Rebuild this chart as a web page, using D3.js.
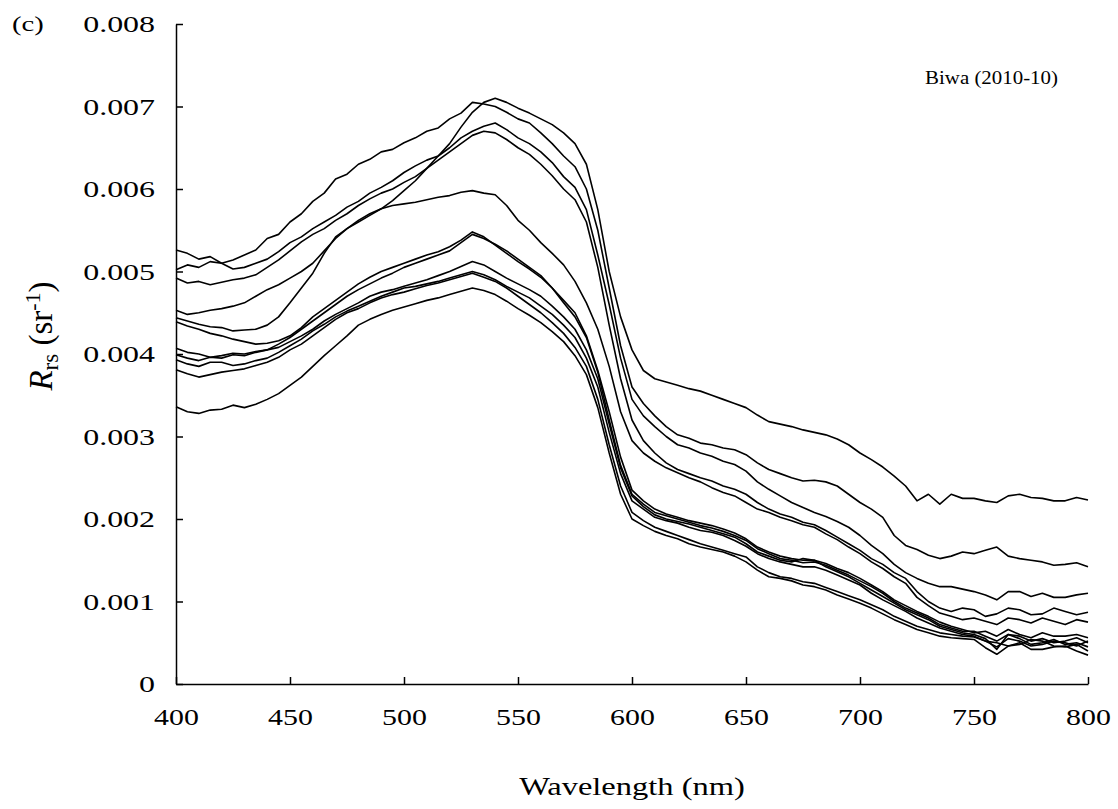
<!DOCTYPE html>
<html>
<head>
<meta charset="utf-8">
<script src="https://cdn.jsdelivr.net/npm/d3@7"></script>
<style>
  html, body { margin: 0; padding: 0; background: #fff; }
  svg { display: block; }
  text { font-family: "Liberation Serif", "Times New Roman", serif; fill: #000; }
</style>
</head>
<body>
<svg id="chart" width="1118" height="809"></svg>
<script>
// ---- data: remote-sensing reflectance, values in units of 0.001 sr^-1 ----
const wavelengths = [
  400,405,410,415,420,425,430,435,440,445,
  450,455,460,465,470,475,480,485,490,495,
  500,505,510,515,520,525,530,535,540,545,
  550,555,560,565,570,575,580,585,590,595,
  600,605,610,615,620,625,630,635,640,645,
  650,655,660,665,670,675,680,685,690,695,
  700,705,710,715,720,725,730,735,740,745,
  750,755,760,765,770,775,780,785,790,795,
  800];
const xTicks = [400,450,500,550,600,650,700,750,800];
const yTicks = [0,0.001,0.002,0.003,0.004,0.005,0.006,0.007,0.008];
const unit = 0.001;

const station1 = [
  5.26,5.22,5.15,5.18,5.10,5.14,5.20,5.26,5.40,5.45,
  5.60,5.70,5.85,5.95,6.12,6.18,6.30,6.36,6.45,6.48,
  6.56,6.62,6.70,6.74,6.85,6.92,7.05,7.03,7.00,6.93,
  6.85,6.80,6.68,6.55,6.40,6.27,6.00,5.50,4.80,4.10,
  3.60,3.40,3.25,3.12,3.02,2.98,2.92,2.90,2.86,2.84,
  2.78,2.68,2.60,2.55,2.50,2.46,2.47,2.45,2.40,2.30,
  2.20,2.12,2.02,1.80,1.68,1.63,1.56,1.52,1.55,1.60,
  1.58,1.62,1.66,1.55,1.52,1.50,1.48,1.44,1.45,1.47,
  1.42];
const station2 = [
  5.02,5.08,5.05,5.12,5.10,5.03,5.05,5.10,5.15,5.24,
  5.35,5.42,5.52,5.60,5.68,5.78,5.85,5.95,6.02,6.10,
  6.20,6.28,6.35,6.40,6.50,6.62,6.70,6.76,6.80,6.72,
  6.62,6.55,6.45,6.32,6.15,6.02,5.75,5.20,4.60,3.95,
  3.45,3.25,3.12,3.00,2.90,2.86,2.80,2.76,2.70,2.66,
  2.58,2.45,2.36,2.28,2.20,2.14,2.08,2.03,1.97,1.90,
  1.80,1.68,1.58,1.45,1.35,1.28,1.22,1.18,1.18,1.15,
  1.12,1.08,1.02,1.12,1.12,1.06,1.10,1.05,1.05,1.08,
  1.10];
const station3 = [
  4.92,4.86,4.88,4.84,4.87,4.90,4.92,4.96,5.05,5.14,
  5.25,5.36,5.45,5.52,5.62,5.70,5.80,5.88,5.95,6.00,
  6.08,6.15,6.25,6.35,6.45,6.55,6.65,6.70,6.68,6.60,
  6.50,6.42,6.30,6.16,6.00,5.87,5.60,5.05,4.35,3.70,
  3.20,2.95,2.80,2.68,2.60,2.55,2.50,2.46,2.40,2.36,
  2.30,2.20,2.12,2.06,2.02,1.96,1.93,1.86,1.78,1.70,
  1.62,1.52,1.45,1.35,1.28,1.12,1.00,0.92,0.88,0.92,
  0.90,0.82,0.85,0.92,0.90,0.84,0.85,0.92,0.88,0.84,
  0.87];
const station4 = [
  4.53,4.48,4.50,4.53,4.55,4.58,4.62,4.70,4.78,4.84,
  4.92,5.00,5.10,5.25,5.40,5.52,5.62,5.70,5.76,5.80,
  5.82,5.84,5.87,5.90,5.92,5.96,5.98,5.95,5.93,5.80,
  5.62,5.50,5.35,5.22,5.08,4.88,4.62,4.30,3.85,3.30,
  2.95,2.80,2.70,2.62,2.56,2.50,2.45,2.38,2.32,2.28,
  2.20,2.12,2.08,2.02,1.98,1.93,1.90,1.82,1.75,1.66,
  1.58,1.48,1.40,1.30,1.22,1.05,0.95,0.86,0.82,0.78,
  0.80,0.76,0.72,0.80,0.78,0.74,0.80,0.76,0.72,0.78,
  0.75];
const station5 = [
  4.44,4.40,4.36,4.33,4.32,4.28,4.29,4.30,4.35,4.45,
  4.62,4.80,4.98,5.22,5.42,5.52,5.60,5.68,5.76,5.86,
  5.98,6.10,6.25,6.40,6.55,6.75,6.93,7.05,7.10,7.05,
  6.98,6.92,6.85,6.78,6.68,6.55,6.30,5.75,5.00,4.45,
  4.05,3.80,3.70,3.66,3.62,3.58,3.55,3.50,3.45,3.40,
  3.35,3.26,3.18,3.15,3.12,3.08,3.05,3.02,2.97,2.90,
  2.80,2.72,2.63,2.52,2.40,2.22,2.30,2.18,2.30,2.25,
  2.25,2.22,2.20,2.28,2.30,2.26,2.25,2.22,2.22,2.26,
  2.23];
const station6 = [
  4.39,4.34,4.30,4.25,4.22,4.18,4.15,4.12,4.13,4.16,
  4.22,4.32,4.45,4.55,4.65,4.75,4.85,4.93,5.00,5.05,
  5.10,5.15,5.20,5.24,5.30,5.38,5.48,5.42,5.32,5.22,
  5.12,5.03,4.93,4.80,4.65,4.50,4.22,3.80,3.30,2.75,
  2.35,2.22,2.12,2.06,2.02,1.98,1.95,1.92,1.88,1.83,
  1.76,1.66,1.60,1.55,1.52,1.50,1.50,1.46,1.40,1.35,
  1.28,1.20,1.12,1.02,0.95,0.88,0.82,0.75,0.70,0.66,
  0.62,0.64,0.58,0.66,0.60,0.56,0.62,0.58,0.58,0.60,
  0.56];
const station7 = [
  4.07,4.02,4.00,3.96,3.98,4.01,4.00,4.03,4.05,4.12,
  4.20,4.30,4.40,4.50,4.60,4.70,4.78,4.85,4.92,4.98,
  5.05,5.10,5.15,5.20,5.25,5.35,5.45,5.40,5.33,5.25,
  5.15,5.05,4.95,4.80,4.62,4.45,4.20,3.78,3.20,2.65,
  2.30,2.18,2.08,2.04,2.00,1.96,1.92,1.89,1.85,1.80,
  1.74,1.64,1.58,1.52,1.50,1.47,1.48,1.44,1.38,1.32,
  1.25,1.18,1.10,1.00,0.92,0.86,0.80,0.72,0.68,0.64,
  0.64,0.58,0.52,0.60,0.58,0.52,0.55,0.50,0.52,0.56,
  0.50];
const station8 = [
  3.99,3.95,3.92,3.96,3.95,3.99,3.98,4.02,4.05,4.08,
  4.15,4.22,4.30,4.40,4.48,4.55,4.62,4.70,4.75,4.78,
  4.82,4.86,4.90,4.95,5.00,5.06,5.12,5.08,5.00,4.92,
  4.85,4.78,4.70,4.58,4.45,4.30,4.05,3.70,3.15,2.62,
  2.28,2.15,2.05,2.00,1.97,1.94,1.90,1.86,1.82,1.78,
  1.70,1.60,1.55,1.50,1.48,1.52,1.50,1.42,1.36,1.30,
  1.22,1.14,1.06,0.98,0.90,0.84,0.78,0.70,0.66,0.62,
  0.60,0.55,0.42,0.60,0.55,0.48,0.50,0.54,0.48,0.50,
  0.45];
const station9 = [
  3.93,3.88,3.85,3.90,3.90,3.86,3.88,3.92,3.95,4.02,
  4.10,4.18,4.28,4.36,4.45,4.52,4.58,4.64,4.70,4.75,
  4.80,4.82,4.85,4.88,4.92,4.96,5.00,4.96,4.90,4.82,
  4.75,4.68,4.58,4.48,4.35,4.20,3.95,3.60,3.05,2.55,
  2.22,2.12,2.02,1.98,1.95,1.90,1.86,1.84,1.80,1.74,
  1.67,1.58,1.52,1.48,1.45,1.42,1.42,1.38,1.32,1.26,
  1.20,1.10,1.02,0.95,0.88,0.80,0.74,0.68,0.64,0.60,
  0.58,0.52,0.50,0.46,0.48,0.54,0.52,0.46,0.45,0.48,
  0.40];
const station10 = [
  3.81,3.76,3.72,3.75,3.78,3.80,3.82,3.86,3.90,3.96,
  4.05,4.12,4.22,4.32,4.42,4.50,4.55,4.62,4.68,4.72,
  4.75,4.79,4.83,4.86,4.90,4.94,4.98,4.93,4.88,4.80,
  4.70,4.60,4.50,4.38,4.25,4.08,3.85,3.45,2.90,2.40,
  2.08,1.98,1.90,1.85,1.80,1.75,1.70,1.66,1.62,1.58,
  1.54,1.42,1.35,1.30,1.28,1.24,1.22,1.17,1.12,1.07,
  1.02,0.96,0.90,0.82,0.76,0.70,0.66,0.62,0.60,0.58,
  0.57,0.52,0.45,0.55,0.52,0.46,0.48,0.52,0.50,0.46,
  0.52];
const station11 = [
  3.36,3.30,3.28,3.32,3.33,3.38,3.35,3.39,3.45,3.52,
  3.62,3.72,3.85,3.98,4.10,4.22,4.35,4.42,4.48,4.53,
  4.57,4.61,4.65,4.68,4.72,4.76,4.80,4.77,4.72,4.64,
  4.55,4.47,4.38,4.27,4.15,3.98,3.75,3.35,2.80,2.30,
  2.00,1.92,1.85,1.80,1.76,1.70,1.66,1.63,1.60,1.55,
  1.48,1.38,1.30,1.28,1.25,1.20,1.18,1.14,1.08,1.03,
  0.98,0.92,0.85,0.78,0.72,0.66,0.62,0.58,0.56,0.55,
  0.54,0.44,0.36,0.46,0.50,0.42,0.42,0.45,0.46,0.40,
  0.35];

const seriesList = [station1,station2,station3,station4,station5,station6,station7,station8,station9,station10,station11];

// ---- layout ----
const svg = d3.select("#chart");
const plotLeft = 176, plotRight = 1088, plotTop = 24, plotBottom = 684;

const x = d3.scaleLinear().domain([400, 800]).range([plotLeft, plotRight]);
const y = d3.scaleLinear().domain([0, 0.008]).range([plotBottom, plotTop]);

// curves
const line = d3.line()
  .x((d, i) => x(wavelengths[i]))
  .y(d => y(d * unit))
  .curve(d3.curveLinear);

svg.append("g")
  .selectAll("path")
  .data(seriesList)
  .join("path")
  .attr("d", line)
  .attr("fill", "none")
  .attr("stroke", "#000")
  .attr("stroke-width", 1.6)
  .attr("stroke-linejoin", "round");

// widen a text horizontally (reference text is drawn wide)
function widen(sel, factor) {
  sel.each(function() {
    const len = this.getComputedTextLength();
    d3.select(this).attr("textLength", len * factor).attr("lengthAdjust", "spacingAndGlyphs");
  });
}

// axes
const xAxis = d3.axisBottom(x).tickValues(xTicks).tickSizeInner(-7).tickSizeOuter(0).tickPadding(25)
  .tickFormat(d3.format("d"));
const gx = svg.append("g").attr("transform", `translate(0,${plotBottom})`).call(xAxis);
gx.select(".domain").attr("stroke", "#000").attr("stroke-width", 1.5);
gx.selectAll(".tick line").attr("stroke", "#000").attr("stroke-width", 1.5);
gx.selectAll(".tick text").attr("font-size", 23).attr("font-family", "Liberation Serif").attr("fill", "#000");
widen(gx.selectAll(".tick text"), 1.3);

const yAxis = d3.axisLeft(y).tickValues(yTicks).tickSizeInner(-7).tickSizeOuter(0).tickPadding(21)
  .tickFormat(d => d === 0 ? "0" : d3.format(".3f")(d));
const gy = svg.append("g").attr("transform", `translate(${plotLeft},0)`).call(yAxis);
gy.select(".domain").attr("stroke", "#000").attr("stroke-width", 1.5);
gy.selectAll(".tick line").attr("stroke", "#000").attr("stroke-width", 1.5);
gy.selectAll(".tick text").attr("font-size", 24).attr("font-family", "Liberation Serif").attr("fill", "#000");
widen(gy.selectAll(".tick text"), 1.33);

// axis titles
const xt = svg.append("text")
  .attr("x", (plotLeft + plotRight) / 2)
  .attr("y", 795)
  .attr("text-anchor", "middle")
  .attr("font-size", 25)
  .text("Wavelength (nm)");
widen(xt, 1.3);

const yt = svg.append("text")
  .attr("transform", "translate(52,336) rotate(-90)")
  .attr("text-anchor", "middle")
  .attr("font-size", 33);
yt.append("tspan").attr("font-style", "italic").text("R");
yt.append("tspan").attr("font-size", 23).attr("dy", 6).text("rs");
yt.append("tspan").attr("dy", -6).text(" (sr");
yt.append("tspan").attr("font-size", 22).attr("dy", -12).text("-1");
yt.append("tspan").attr("dy", 12).text(")");

// panel label and annotation
const lab = svg.append("text").attr("x", 12).attr("y", 31).attr("font-size", 22).text("(c)");
widen(lab, 1.3);
const note = svg.append("text").attr("x", 1058).attr("y", 84).attr("text-anchor", "end").attr("font-size", 19).text("Biwa (2010-10)");
widen(note, 1.1);
</script>
</body>
</html>
